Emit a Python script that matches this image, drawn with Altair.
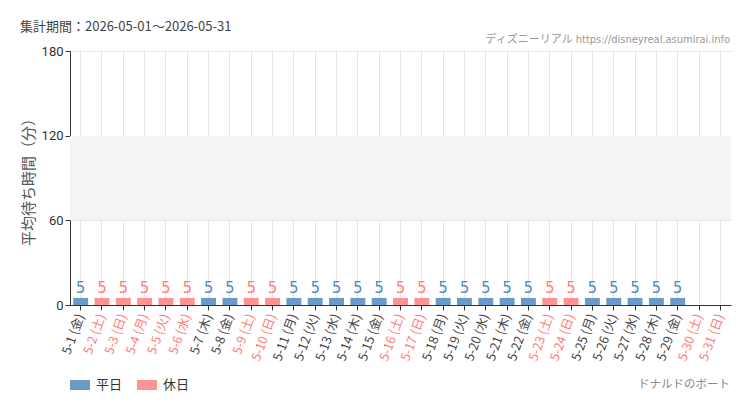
import altair as alt
import pandas as pd

days = [f"5-{d}" for d in range(1, 32)]
weekdays = ["金", "土", "日", "月", "火", "水", "木", "金", "土", "日", "月", "火", "水", "木", "金",
            "土", "日", "月", "火", "水", "木", "金", "土", "日", "月", "火", "水", "木", "金", "土", "日"]
holiday_days = [2, 3, 4, 5, 6, 9, 10, 16, 17, 23, 24, 30, 31]
values = [5] * 29 + [None, None]

labels = [f"{d} ({w})" for d, w in zip(days, weekdays)]
kinds = ["休日" if i + 1 in holiday_days else "平日" for i in range(31)]

df = pd.DataFrame({"label": labels, "value": values, "kind": kinds})
holiday_labels = [l for l, k in zip(labels, kinds) if k == "休日"]

BLUE = "#6a9ac8"
PINK = "#ff9393"
BLUE_T = "#4a86c2"
PINK_T = "#ff7b7b"
JP = "Noto Sans CJK JP"
COND = "DejaVu Sans Condensed, Liberation Sans Narrow, Noto Sans CJK JP"

hol_list = "[" + ",".join(f"'{l}'" for l in holiday_labels) + "]"
test_expr = f"indexof({hol_list}, datum.value) >= 0"

x = alt.X("label:N", sort=labels, title=None,
          scale=alt.Scale(paddingInner=0.3, paddingOuter=0.15),
          axis=alt.Axis(labelAngle=290, labelFont=JP, labelFontSize=12.5,
                        labelColor={"condition": {"test": test_expr, "value": PINK_T}, "value": "#444444"},
                        labelAlign="right", labelBaseline="middle", labelPadding=4,
                        domainColor="#333333", tickColor="#333333", tickSize=5,
                        grid=True, gridColor="#e6e6e6", labelOverlap=False))
y = alt.Y("value:Q", title="平均待ち時間（分）",
          scale=alt.Scale(domain=[0, 180], nice=False),
          axis=alt.Axis(values=[0, 60, 120, 180], labelFont="Roboto", labelFontSize=13,
                        labelColor="#333333", titleFont=JP, titleFontSize=15,
                        titleFontWeight="normal", titleColor="#555555", titlePadding=5,
                        domainColor="#333333", tickColor="#333333", tickSize=5,
                        gridColor="#e6e6e6"))

color = alt.Color("kind:N", scale=alt.Scale(domain=["平日", "休日"], range=[BLUE, PINK]),
                  legend=alt.Legend(title=None, orient="none", legendX=0, legendY=324,
                                    direction="horizontal",
                                    symbolType="M-1,-0.5H1V0.5H-1Z", symbolSize=400,
                                    symbolStrokeWidth=0, symbolOpacity=1,
                                    labelFont=JP, labelFontSize=13, labelColor="#333333",
                                    columnPadding=14, labelOffset=6))

band_df = pd.DataFrame({"lo": [60], "hi": [120]})
band = alt.Chart(band_df).mark_rect(color="#f4f4f4").encode(
    y=alt.Y("lo:Q", scale=alt.Scale(domain=[0, 180], nice=False)), y2="hi:Q")

bars = alt.Chart(df).mark_bar(opacity=1).encode(x=x, y=y, color=color)

text = alt.Chart(df).transform_filter("datum.value != null").mark_text(
    dy=-2, font=COND, fontSize=16, baseline="bottom").encode(
    x=alt.X("label:N", sort=labels),
    y="value:Q",
    text="value:Q",
    color=alt.Color("kind:N", scale=alt.Scale(domain=["平日", "休日"], range=[BLUE_T, PINK_T]), legend=None))

title_df = pd.DataFrame({"t": ["集計期間：2026-05-01〜2026-05-31"]})
title = alt.Chart(title_df).mark_text(align="left", baseline="middle", font=JP, fontSize=13,
                                      color="#444444").encode(
    text="t:N", x=alt.value(-50), y=alt.value(-24))

credit_df = pd.DataFrame({"t": ["ディズニーリアル https://disneyreal.asumirai.info"]})
credit = alt.Chart(credit_df).mark_text(align="right", baseline="middle", font=COND,
                                        fontSize=11, color="#999999").encode(
    text="t:N", x=alt.value(660), y=alt.value(-11))

attr_df = pd.DataFrame({"t": ["ドナルドのボート"]})
attr = alt.Chart(attr_df).mark_text(align="right", baseline="middle", font=COND, fontSize=11.5,
                                    color="#888888").encode(
    text="t:N", x=alt.value(660), y=alt.value(334))

chart = alt.layer(band, bars, text, title, credit, attr).resolve_scale(color="independent").properties(
    width=661, height=254,
    autosize=alt.AutoSizeParams(type="none"),
    padding={"left": 62, "top": 43, "right": 11, "bottom": 97},
    background="#ffffff",
).configure_view(stroke=None).configure_axisY(domain=True, grid=True)

chart.save("out.html", embed_options={"renderer": "svg", "actions": False})
